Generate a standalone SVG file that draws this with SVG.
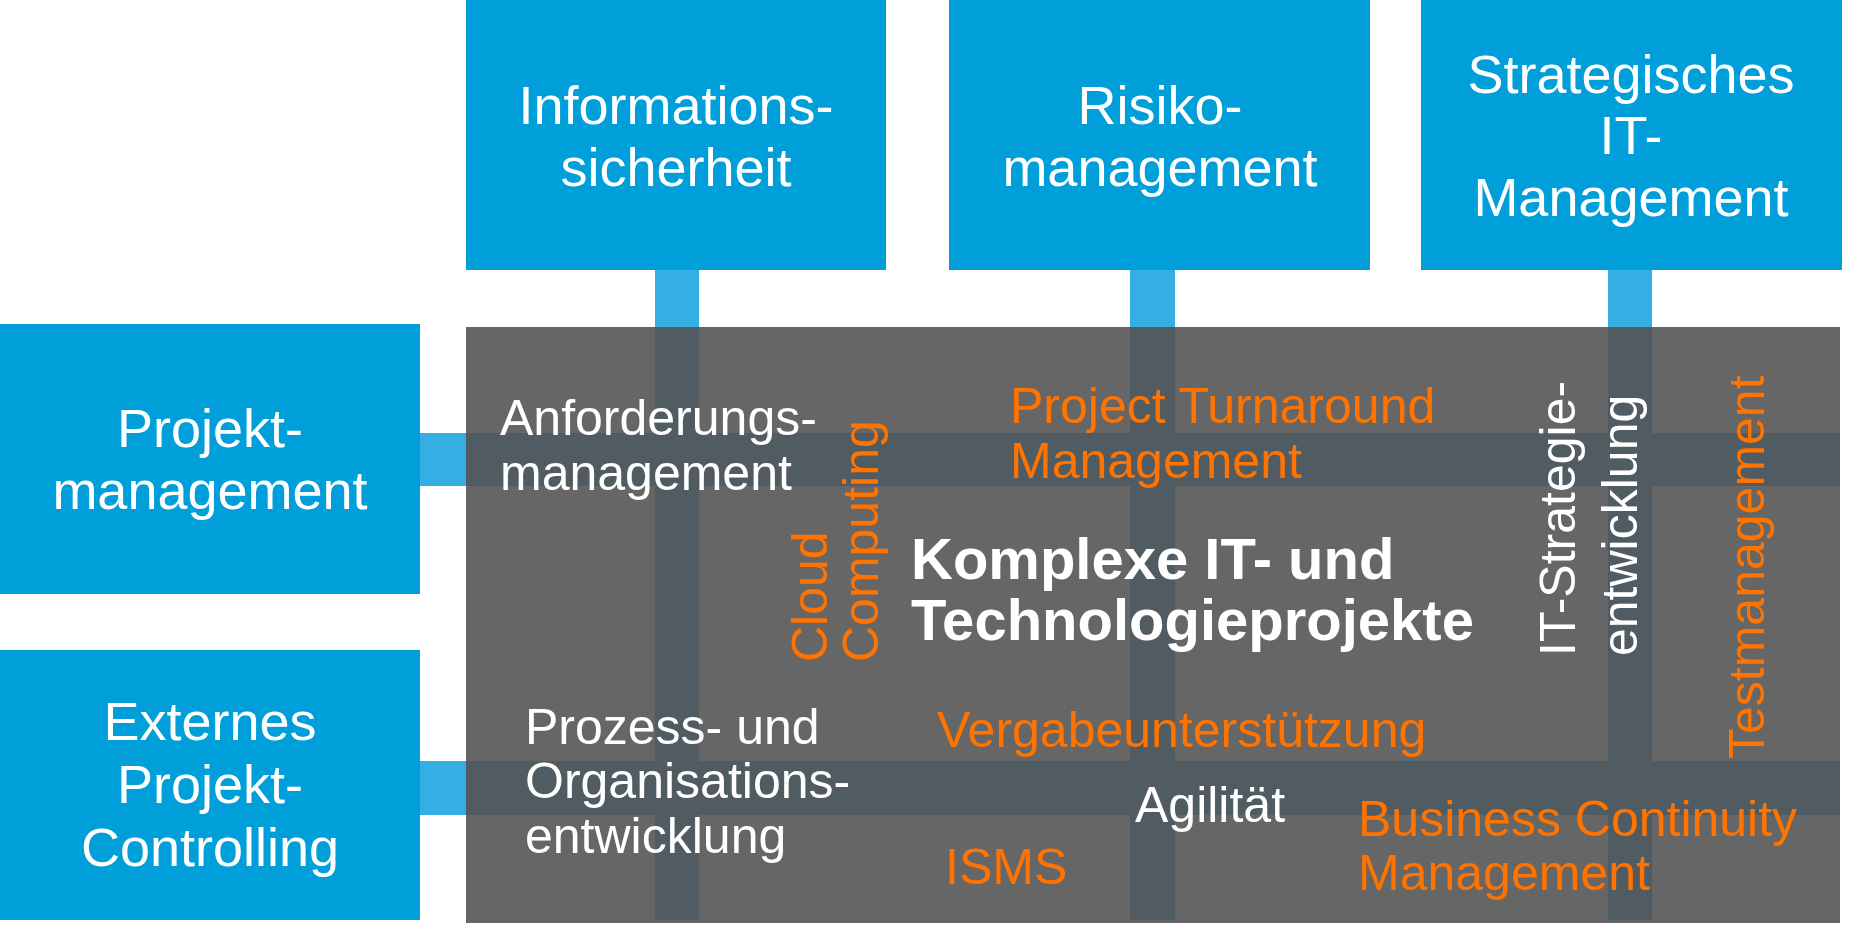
<svg xmlns="http://www.w3.org/2000/svg" width="1857" height="933" viewBox="0 0 1857 933">
<style>
.box{fill:#009FDA}
.lc{fill:#35AFE3}
.dc{fill:#515B62}
.t{font-family:"Liberation Sans",Arial,sans-serif;fill:#fff}
.big{font-size:54px;text-anchor:middle}
.m{font-size:50px}
.o{fill:#FF7300}
.b{font-weight:bold;font-size:58px}
</style>
<rect width="1857" height="933" fill="#fff"/>
<g id="center"><rect x="466" y="327" width="1374" height="596" fill="#666"/></g>
<g id="connectors">
<rect class="lc" x="655" y="270" width="44" height="57"/>
<rect class="lc" x="1130" y="270" width="45" height="57"/>
<rect class="lc" x="1608" y="270" width="44" height="57"/>
<rect class="lc" x="420" y="433" width="46" height="53"/>
<rect class="lc" x="420" y="761" width="46" height="54"/>
<rect class="dc" x="655" y="327" width="44" height="593"/>
<rect class="dc" x="1130" y="327" width="45" height="593"/>
<rect class="dc" x="1608" y="327" width="44" height="593"/>
<rect class="dc" x="466" y="433" width="1374" height="53"/>
<rect class="dc" x="466" y="761" width="1374" height="54"/>
</g>
<g id="n1"><rect class="box" x="466" y="0" width="420" height="270"/><text class="t big" x="676" y="124">Informations-</text><text class="t big" x="676" y="186">sicherheit</text></g>
<g id="n2"><rect class="box" x="949" y="0" width="421" height="270"/><text class="t big" x="1160" y="124">Risiko-</text><text class="t big" x="1160" y="186">management</text></g>
<g id="n3"><rect class="box" x="1421" y="0" width="421" height="270"/><text class="t big" x="1631" y="93">Strategisches</text><text class="t big" x="1631" y="154">IT-</text><text class="t big" x="1631" y="216">Management</text></g>
<g id="n4"><rect class="box" x="0" y="324" width="420" height="270"/><text class="t big" x="210" y="447">Projekt-</text><text class="t big" x="210" y="509">management</text></g>
<g id="n5"><rect class="box" x="0" y="650" width="420" height="270"/><text class="t big" x="210" y="740">Externes</text><text class="t big" x="210" y="803">Projekt-</text><text class="t big" x="210" y="866">Controlling</text></g>
<g id="labels">
<text class="t m" x="500" y="435">Anforderungs-</text><text class="t m" x="500" y="490">management</text>
<text class="t m o" x="1010" y="423">Project Turnaround</text><text class="t m o" x="1010" y="478">Management</text>
<text class="t m o" transform="translate(827,662) rotate(-90)">Cloud</text>
<text class="t m o" transform="translate(878,662) rotate(-90)">Computing</text>
<text class="t b" x="911" y="579">Komplexe IT- und</text><text class="t b" x="911" y="640">Technologieprojekte</text>
<text class="t m" transform="translate(1575,656) rotate(-90)">IT-Strategie-</text>
<text class="t m" transform="translate(1637,656) rotate(-90)">entwicklung</text>
<text class="t m o" transform="translate(1764,759) rotate(-90)">Testmanagement</text>
<text class="t m" x="525" y="744">Prozess- und</text><text class="t m" x="525" y="798">Organisations-</text><text class="t m" x="525" y="853">entwicklung</text>
<text class="t m o" x="937" y="747">Vergabeunterstützung</text>
<text class="t m" x="1135" y="822">Agilität</text>
<text class="t m o" x="945" y="884">ISMS</text>
<text class="t m o" x="1358" y="836">Business Continuity</text><text class="t m o" x="1358" y="890">Management</text>
</g>
</svg>
